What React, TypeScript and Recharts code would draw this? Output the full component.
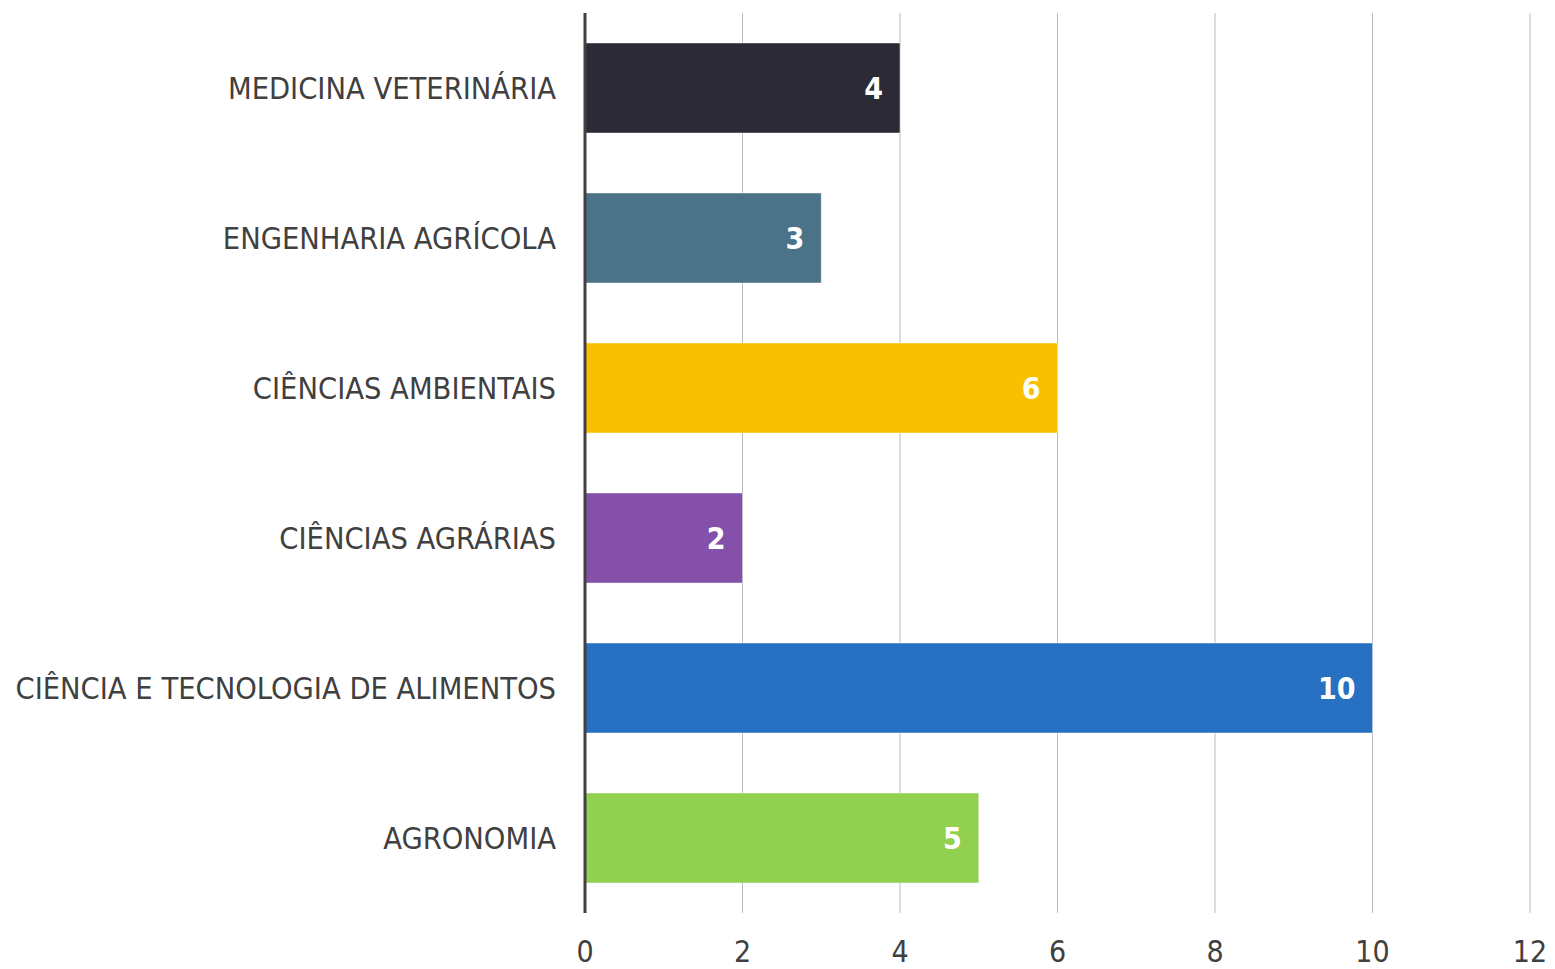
import React from 'react';
import { BarChart, Bar, XAxis, YAxis, CartesianGrid, Cell, LabelList } from 'recharts';

const categories = [
  'MEDICINA VETERINÁRIA',
  'ENGENHARIA AGRÍCOLA',
  'CIÊNCIAS AMBIENTAIS',
  'CIÊNCIAS AGRÁRIAS',
  'CIÊNCIA E TECNOLOGIA DE ALIMENTOS',
  'AGRONOMIA',
];
const values = [4, 3, 6, 2, 10, 5];
const colors = ['#2B2A35', '#4A7388', '#F8C000', '#8550AA', '#2870C2', '#92D050'];
const xTicks = [0, 2, 4, 6, 8, 10, 12];

const data = categories.map((c, i) => ({ name: c, value: values[i] }));

const FONT = '"DejaVu Sans Condensed", "DejaVu Sans", sans-serif';

export default function App() {
  return (
    <div style={{ position: 'absolute', left: 0, top: 0, width: 1555, height: 969, background: '#fff' }}>
      <BarChart
        width={1555}
        height={969}
        data={data}
        layout="vertical"
        margin={{ top: 13, right: 25, bottom: 0, left: 0 }}
        barCategoryGap="20%"
      >
        <CartesianGrid horizontal={false} vertical={true} stroke="#bcbcbc" strokeWidth={1} />
        <XAxis
          type="number"
          domain={[0, 12]}
          ticks={xTicks}
          axisLine={false}
          tickLine={false}
          tickSize={0}
          tickMargin={28}
          height={56}
          tick={{ fill: '#404040', fontSize: 30, fontFamily: FONT }}
          interval={0}
        />
        <YAxis
          type="category"
          dataKey="name"
          width={585}
          axisLine={{ stroke: '#404040', strokeWidth: 3 }}
          tickLine={false}
          tickSize={0}
          tickMargin={29}
          interval={0}
          tick={{ fill: '#404040', fontSize: 30.5, fontFamily: FONT }}
        />
        <Bar dataKey="value" isAnimationActive={false} stroke="rgba(255,255,255,0.45)" strokeWidth={1}>
          {data.map((d, i) => (
            <Cell key={d.name} fill={colors[i]} />
          ))}
          <LabelList
            dataKey="value"
            position="insideRight"
            offset={17}
            fill="#ffffff"
            style={{ fontSize: 30, fontWeight: 'bold', fontFamily: FONT }}
          />
        </Bar>
      </BarChart>
    </div>
  );
}
